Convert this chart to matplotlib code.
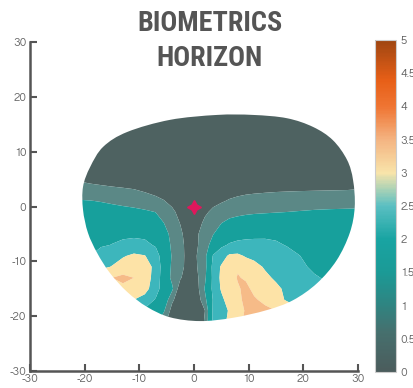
import numpy as np
import matplotlib
matplotlib.use("Agg")
import matplotlib.pyplot as plt
from matplotlib import font_manager as fm
from matplotlib.font_manager import FontProperties
from matplotlib.textpath import TextPath
from matplotlib.path import Path
from matplotlib.patches import PathPatch
from matplotlib.colors import LinearSegmentedColormap, Normalize
from matplotlib.cm import ScalarMappable

# ---------------- data ----------------
title_text = "BIOMETRICS\nHORIZON"
axis_ticks = [-30, -20, -10, 0, 10, 20, 30]
cbar_ticks = [0, 0.5, 1, 1.5, 2, 2.5, 3, 3.5, 4, 4.5, 5]
cbar_labels = ['0', '0.5', '1', '1.5', '2', '2.5', '3', '3.5', '4', '4.5', '5']

grid_x = [-21, -19, -17, -15, -13, -11, -9, -7, -5.5, -4, -2.5, -1, 0.5, 2,
          3.5, 5, 6.5, 8, 9.5, 11, 13, 15, 17, 19, 22, 25, 28, 31]
grid_y = [18, 12, 7, 5, 3, 1, -1, -3, -5, -7, -9, -11, -13, -15, -17, -19, -21]

row_18 = [0.3] * 28
row_12 = [0.3] * 28
row_7 = [0.55, 0.5, 0.47, 0.45, 0.42, 0.4, 0.38, 0.35, 0.33, 0.32, 0.3, 0.3, 0.3, 0.3,
         0.3, 0.3, 0.3, 0.32, 0.33, 0.35, 0.37, 0.39, 0.41, 0.43, 0.45, 0.47, 0.49, 0.5]
row_5 = [0.72, 0.68, 0.64, 0.6, 0.56, 0.52, 0.48, 0.44, 0.4, 0.37, 0.35, 0.33, 0.32, 0.32,
         0.33, 0.35, 0.38, 0.4, 0.43, 0.46, 0.5, 0.53, 0.56, 0.58, 0.61, 0.63, 0.65, 0.67]
row_3 = [0.86, 0.85, 0.84, 0.82, 0.8, 0.77, 0.7, 0.62, 0.55, 0.48, 0.42, 0.38, 0.36, 0.38,
         0.42, 0.48, 0.54, 0.6, 0.64, 0.66, 0.68, 0.7, 0.71, 0.72, 0.73, 0.74, 0.75, 0.76]
row_1 = [1.3, 1.27, 1.22, 1.15, 1.08, 1.02, 0.95, 0.86, 0.77, 0.62, 0.5, 0.42, 0.4, 0.45,
         0.58, 0.7, 0.8, 0.86, 0.9, 0.93, 0.96, 0.98, 1.0, 1.02, 1.04, 1.05, 1.06, 1.07]
row_m1 = [1.6, 1.58, 1.55, 1.5, 1.45, 1.4, 1.33, 1.24, 1.05, 0.85, 0.6, 0.45, 0.45, 0.65,
          0.88, 1.0, 1.07, 1.12, 1.16, 1.19, 1.21, 1.23, 1.25, 1.27, 1.3, 1.32, 1.33, 1.34]
row_m3 = [1.8, 1.8, 1.78, 1.76, 1.74, 1.7, 1.62, 1.45, 1.25, 1.0, 0.73, 0.45, 0.5, 0.88,
          1.05, 1.24, 1.38, 1.45, 1.5, 1.52, 1.55, 1.57, 1.58, 1.6, 1.62, 1.63, 1.64, 1.65]
row_m5 = [1.85, 1.86, 1.88, 1.9, 1.92, 1.93, 1.9, 1.7, 1.45, 1.1, 0.85, 0.5, 0.68, 1.0,
          1.23, 1.5, 1.75, 1.85, 1.88, 1.9, 1.92, 1.92, 1.9, 1.85, 1.8, 1.75, 1.72, 1.7]
row_m7 = [1.85, 1.9, 1.95, 2.01, 2.08, 2.12, 2.1, 1.95, 1.6, 1.15, 0.95, 0.5, 0.7, 1.0,
          1.5, 1.9, 2.05, 2.1, 2.12, 2.12, 2.1, 2.05, 1.98, 1.9, 1.8, 1.72, 1.68, 1.65]
row_m9 = [1.95, 2.0, 2.2, 2.33, 2.45, 2.6, 2.52, 2.2, 1.75, 1.2, 0.98, 0.5, 0.75, 1.1,
          2.05, 2.3, 2.58, 2.6, 2.45, 2.38, 2.3, 2.22, 2.12, 2.02, 1.88, 1.8, 1.75, 1.7]
row_m11 = [2.2, 2.3, 2.4, 2.52, 2.75, 2.85, 2.75, 2.35, 1.75, 1.15, 0.95, 0.5, 0.73, 1.05,
           2.2, 2.55, 2.85, 2.95, 2.8, 2.65, 2.45, 2.3, 2.18, 2.07, 1.95, 1.85, 1.8, 1.75]
row_m13 = [2.7, 2.8, 2.9, 3.0, 3.1, 3.0, 2.75, 2.3, 1.72, 1.1, 0.8, 0.45, 0.65, 1.15,
           2.15, 2.6, 2.8, 3.03, 2.95, 2.8, 2.6, 2.43, 2.3, 2.2, 2.03, 1.95, 1.9, 1.85]
row_m15 = [2.7, 2.75, 2.8, 2.85, 2.9, 2.85, 2.65, 2.25, 1.7, 1.35, 0.45, 0.35, 0.55, 1.3,
           2.15, 2.55, 2.8, 2.95, 3.1, 2.9, 2.75, 2.6, 2.4, 2.3, 2.15, 2.05, 2.0, 1.95]
row_m17 = [2.6, 2.6, 2.6, 2.6, 2.6, 2.5, 2.35, 1.95, 1.65, 0.85, 0.4, 0.3, 0.45, 1.1,
           2.05, 2.4, 2.7, 2.9, 3.1, 3.05, 2.9, 2.65, 2.45, 2.35, 2.2, 2.1, 2.05, 2.0]
row_m19 = [2.2, 2.2, 2.2, 2.2, 2.2, 2.1, 1.9, 1.6, 1.3, 0.55, 0.3, 0.3, 0.4, 0.75,
           2.1, 2.3, 2.55, 2.8, 3.05, 3.15, 3.1, 3.0, 2.8, 2.6, 2.4, 2.3, 2.2, 2.1]
row_m21 = [2.0, 2.0, 2.0, 2.0, 2.0, 1.9, 1.7, 1.4, 0.9, 0.4, 0.3, 0.3, 0.4, 0.8,
           2.1, 2.35, 2.6, 2.85, 3.1, 3.2, 3.15, 3.05, 2.85, 2.65, 2.45, 2.3, 2.2, 2.1]

field_rows = [row_18, row_12, row_7, row_5, row_3, row_1, row_m1, row_m3, row_m5,
              row_m7, row_m9, row_m11, row_m13, row_m15, row_m17, row_m19, row_m21]

levels = [0, 0.75, 1.25, 2.0, 2.5, 3.0, 5.0]
band_colors = ['#4e6261', '#5b8886', '#17a09c', '#3db6bc', '#fde3a7', '#f6bb88']

# lens outline (mm)
outline_x = [-4.4, -12.2, -16.6, -19.0, -20.3, -20.3, -19.4, -17.7, -15.4, -12.2, -8.6,
             -4.4, 1.1, 7.1, 13.3, 18.1, 22.5, 26.1, 28.5, 29.4, 29.1, 28.0, 25.4, 21.8,
             17.0, 10.8, 4.2]
outline_y = [15.8, 13.6, 10.9, 7.2, 3.6, -0.6, -4.8, -8.5, -12.1, -15.6, -18.3,
             -20.2, -20.9, -20.3, -18.9, -17.1, -14.0, -9.8, -4.8, -0.1, 4.8, 8.5, 12.1, 14.5,
             16.1, 16.7, 16.7]

fitting_cross = (0, 0)

cbar_anchor_vals = [0.0, 0.6, 1.0, 1.5, 2.0, 2.5, 3.0, 3.5, 4.0, 4.4, 5.0]
cbar_anchor_cols = ['#4b5c5c', '#46706e', '#2f8481', '#1b9a96', '#19a4a2', '#5abfc2',
                    '#f8e4aa', '#f4b482', '#ef7533', '#e75f17', '#9f4612']

# ---------------- fonts: pick the installed face closest to the narrow look ----------------
WEIGHTS = {'ultralight': 200, 'light': 300, 'normal': 400, 'regular': 400, 'book': 400,
           'medium': 500, 'roman': 400, 'semibold': 600, 'demibold': 600, 'demi': 600,
           'bold': 700, 'heavy': 800, 'extra bold': 800, 'black': 900}
ALLOWED = ('DejaVu Sans', 'Liberation Sans', 'Noto Sans', 'Roboto', 'Open Sans',
           'Lato', 'Inter')


def wnum(w):
    if isinstance(w, (int, float)):
        return float(w)
    return float(WEIGHTS.get(str(w).lower(), 400))


def measure(fp, s):
    bb = TextPath((0, 0), s, size=100, prop=fp).get_extents()
    return bb.width, bb.height


def pick(text, target_ratio, wlo, whi):
    best, best_score = None, 1e9
    seen = set()
    for e in fm.fontManager.ttflist:
        if e.fname in seen:
            continue
        seen.add(e.fname)
        if not e.name.startswith(ALLOWED) or 'Mono' in e.name or 'CJK' in e.name:
            continue
        if e.style != 'normal' or not (wlo <= wnum(e.weight) <= whi):
            continue
        try:
            fp = FontProperties(fname=e.fname)
            w, h = measure(fp, text)
        except Exception:
            continue
        if h <= 0:
            continue
        sc = abs(w / h - target_ratio)
        if sc < best_score:
            best, best_score = fp, sc
    return best


title_fp = pick('BIOMETRICS', 136 / 20.0, 600, 800) or FontProperties(family='Roboto', weight='bold')
tick_fp = pick('10', 10 / 8.0, 350, 500) or FontProperties(family='Roboto')

_, cap_h = measure(title_fp, 'H')
title_size = 20 * 0.72 * 100 / cap_h
title_fp.set_size(title_size)
_, lp_h = measure(title_fp, 'lp')
title_linespacing = 37.0 / (lp_h / 100 * title_size * 100 / 72)

_, dig_h = measure(tick_fp, '0')
tick_size = 8.2 * 0.72 * 100 / dig_h
tick_fp.set_size(tick_size)

# ---------------- figure ----------------
W, H = 413, 388
fig = plt.figure(figsize=(W / 100, H / 100), dpi=100)
ax = fig.add_axes([30 / W, 1 - 371 / H, 328 / W, 329 / H])

Z = np.array(field_rows, dtype=float)
X, Y = np.meshgrid(grid_x, grid_y)
cs = ax.contourf(X, Y, Z, levels=levels, colors=band_colors, antialiased=True)

# smooth closed outline (Catmull-Rom -> Bezier)
P = np.column_stack([outline_x, outline_y])
n = len(P)
verts = [P[0]]
codes = [Path.MOVETO]
for i in range(n):
    p0, p1, p2, p3 = P[i - 1], P[i], P[(i + 1) % n], P[(i + 2) % n]
    c1 = p1 + (p2 - p0) / 6.0
    c2 = p2 - (p3 - p1) / 6.0
    verts += [c1, c2, p2]
    codes += [Path.CURVE4] * 3
lens_path = Path(verts, codes)
lens_patch = PathPatch(lens_path, transform=ax.transData, facecolor='none',
                       edgecolor='none')
ax.add_patch(lens_patch)
cs.set_clip_path(lens_patch)

ax.plot([fitting_cross[0]], [fitting_cross[1]], marker=(4, 1, 0), ms=10,
        color='#e0175c', mec='#e0175c', ls='none')

ax.set_xlim(-30, 30)
ax.set_ylim(-30, 30)
ax.set_xticks(axis_ticks)
ax.set_yticks(axis_ticks)
for s in ['top', 'right']:
    ax.spines[s].set_visible(False)
for s in ['left', 'bottom']:
    ax.spines[s].set_linewidth(1.8)
    ax.spines[s].set_color('#555555')
ax.tick_params(direction='in', length=5, width=1.5, color='#555555',
               labelcolor='#666666', pad=2.5)
for lab in ax.get_xticklabels() + ax.get_yticklabels():
    lab.set_fontproperties(tick_fp)

fig.text(210 / W, 1 - 41 / H, title_text, ha='center', va='center',
         fontproperties=title_fp, color='#555555', linespacing=title_linespacing)

cmap = LinearSegmentedColormap.from_list(
    'lens', list(zip(np.array(cbar_anchor_vals) / 5.0, cbar_anchor_cols)))
cax = fig.add_axes([375 / W, 1 - 372 / H, 21 / W, 332 / H])
sm = ScalarMappable(norm=Normalize(0, 5), cmap=cmap)
cb = fig.colorbar(sm, cax=cax, ticks=cbar_ticks)
cb.ax.set_yticklabels(cbar_labels)
cb.outline.set_edgecolor('#cccccc')
cb.outline.set_linewidth(0.8)
cb.ax.tick_params(length=0, labelcolor='#666666', pad=3.5)
for lab in cb.ax.get_yticklabels():
    lab.set_fontproperties(tick_fp)

fig.savefig('out.png', dpi=100)
